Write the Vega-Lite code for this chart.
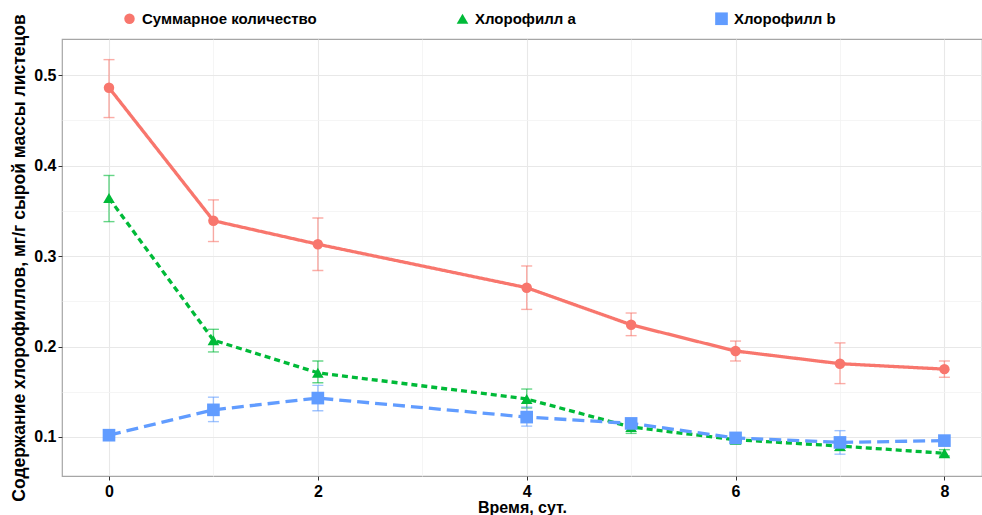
{
  "$schema": "https://vega.github.io/schema/vega-lite/v6.json",
  "width": 920,
  "height": 437,
  "autosize": {"type": "none"},
  "padding": {"left": 62, "top": 39, "right": 0, "bottom": 39},
  "background": "white",
  "config": {
    "font": "Liberation Sans",
    "view": {"stroke": "#a6a6a6", "strokeWidth": 1.2}
  },
  "data": {
    "values": [
      {"t": 0, "series": "Суммарное количество", "mean": 0.486, "lo": 0.453, "hi": 0.517},
      {"t": 1, "series": "Суммарное количество", "mean": 0.339, "lo": 0.316, "hi": 0.362},
      {"t": 2, "series": "Суммарное количество", "mean": 0.313, "lo": 0.284, "hi": 0.342},
      {"t": 4, "series": "Суммарное количество", "mean": 0.265, "lo": 0.241, "hi": 0.289},
      {"t": 5, "series": "Суммарное количество", "mean": 0.224, "lo": 0.212, "hi": 0.237},
      {"t": 6, "series": "Суммарное количество", "mean": 0.195, "lo": 0.184, "hi": 0.206},
      {"t": 7, "series": "Суммарное количество", "mean": 0.181, "lo": 0.159, "hi": 0.204},
      {"t": 8, "series": "Суммарное количество", "mean": 0.175, "lo": 0.166, "hi": 0.184},
      {"t": 0, "series": "Хлорофилл a", "mean": 0.364, "lo": 0.338, "hi": 0.389},
      {"t": 1, "series": "Хлорофилл a", "mean": 0.207, "lo": 0.194, "hi": 0.219},
      {"t": 2, "series": "Хлорофилл a", "mean": 0.171, "lo": 0.160, "hi": 0.184},
      {"t": 4, "series": "Хлорофилл a", "mean": 0.142, "lo": 0.132, "hi": 0.153},
      {"t": 5, "series": "Хлорофилл a", "mean": 0.111, "lo": 0.104, "hi": 0.118},
      {"t": 6, "series": "Хлорофилл a", "mean": 0.097, "lo": 0.094, "hi": 0.102},
      {"t": 7, "series": "Хлорофилл a", "mean": 0.090, "lo": 0.085, "hi": 0.096},
      {"t": 8, "series": "Хлорофилл a", "mean": 0.082, "lo": 0.079, "hi": 0.086},
      {"t": 0, "series": "Хлорофилл b", "mean": 0.102, "lo": 0.097, "hi": 0.107},
      {"t": 1, "series": "Хлорофилл b", "mean": 0.130, "lo": 0.117, "hi": 0.144},
      {"t": 2, "series": "Хлорофилл b", "mean": 0.143, "lo": 0.129, "hi": 0.157},
      {"t": 4, "series": "Хлорофилл b", "mean": 0.122, "lo": 0.112, "hi": 0.133},
      {"t": 5, "series": "Хлорофилл b", "mean": 0.115, "lo": 0.111, "hi": 0.119},
      {"t": 6, "series": "Хлорофилл b", "mean": 0.099, "lo": 0.096, "hi": 0.102},
      {"t": 7, "series": "Хлорофилл b", "mean": 0.094, "lo": 0.081, "hi": 0.107},
      {"t": 8, "series": "Хлорофилл b", "mean": 0.096, "lo": 0.091, "hi": 0.100}
    ]
  },
  "encoding": {
    "x": {
      "field": "t",
      "type": "quantitative",
      "scale": {"domain": [-0.45, 8.36], "nice": false, "zero": false},
      "axis": {
        "title": "Время, сут.",
        "values": [0, 1, 2, 3, 4, 5, 6, 7, 8],
        "labelExpr": "datum.value % 2 === 0 ? datum.label : ''",
        "domain": false,
        "tickColor": "#333333",
        "tickSize": 4,
        "tickOpacity": {"condition": {"test": "datum.value % 2 === 1", "value": 0}, "value": 1},
        "gridColor": {"condition": {"test": "datum.value % 2 === 1", "value": "#f3f3f3"}, "value": "#e8e8e8"},
        "gridWidth": {"condition": {"test": "datum.value % 2 === 1", "value": 0.8}, "value": 1.1},
        "labelFontSize": 16,
        "labelFontWeight": "bold",
        "labelColor": "black",
        "labelPadding": 3,
        "titleFontSize": 16,
        "titleFontWeight": "bold",
        "titleColor": "black",
        "titlePadding": 0
      }
    },
    "y": {
      "field": "mean",
      "type": "quantitative",
      "scale": {"domain": [0.0569, 0.5398], "nice": false, "zero": false},
      "axis": {
        "title": "Содержание хлорофиллов, мг/г сырой массы листецов",
        "values": [0.1, 0.15, 0.2, 0.25, 0.3, 0.35, 0.4, 0.45, 0.5],
        "format": ".1f",
        "labelExpr": "abs(datum.value * 10 - round(datum.value * 10)) > 0.01 ? '' : datum.label",
        "domain": false,
        "tickColor": "#333333",
        "tickSize": 4,
        "tickOpacity": {"condition": {"test": "abs(datum.value * 10 - round(datum.value * 10)) > 0.01", "value": 0}, "value": 1},
        "gridColor": {"condition": {"test": "abs(datum.value * 10 - round(datum.value * 10)) > 0.01", "value": "#f3f3f3"}, "value": "#e8e8e8"},
        "gridWidth": {"condition": {"test": "abs(datum.value * 10 - round(datum.value * 10)) > 0.01", "value": 0.8}, "value": 1.1},
        "labelFontSize": 16,
        "labelFontWeight": "bold",
        "labelColor": "black",
        "labelPadding": 2,
        "titleFontSize": 17.5,
        "titleFontWeight": "bold",
        "titleColor": "black",
        "titlePadding": 5
      }
    },
    "color": {
      "field": "series",
      "type": "nominal",
      "scale": {
        "domain": ["Суммарное количество", "Хлорофилл a", "Хлорофилл b"],
        "range": ["#F8766D", "#00BA38", "#619CFF"]
      },
      "legend": {
        "title": null,
        "orient": "none",
        "legendX": 56,
        "legendY": -28,
        "direction": "horizontal",
        "labelFontSize": 15,
        "labelFontWeight": "bold",
        "labelColor": "black",
        "labelLimit": 400,
        "labelOffset": 5,
        "columnPadding": 134,
        "symbolOffset": 4,
        "symbolStrokeWidth": 0,
        "symbolOpacity": 1
      }
    }
  },
  "layer": [
    {
      "mark": {
        "type": "errorbar",
        "ticks": {"size": 11, "opacity": 0.6},
        "rule": {"opacity": 0.6},
        "thickness": 1.4
      },
      "encoding": {
        "y": {"field": "lo", "type": "quantitative"},
        "y2": {"field": "hi"}
      }
    },
    {
      "mark": {"type": "line", "strokeWidth": 3.3},
      "encoding": {
        "strokeDash": {
          "field": "series",
          "type": "nominal",
          "scale": {
            "domain": ["Суммарное количество", "Хлорофилл a", "Хлорофилл b"],
            "range": [[1, 0], [6, 4], [12, 6]]
          }
        }
      }
    },
    {
      "mark": {"type": "point", "filled": true, "opacity": 1},
      "encoding": {
        "shape": {
          "field": "series",
          "type": "nominal",
          "scale": {
            "domain": ["Суммарное количество", "Хлорофилл a", "Хлорофилл b"],
            "range": ["circle", "triangle-up", "square"]
          }
        },
        "size": {
          "field": "series",
          "type": "nominal",
          "scale": {
            "domain": ["Суммарное количество", "Хлорофилл a", "Хлорофилл b"],
            "range": [110, 160, 120]
          }
        }
      }
    }
  ]
}
